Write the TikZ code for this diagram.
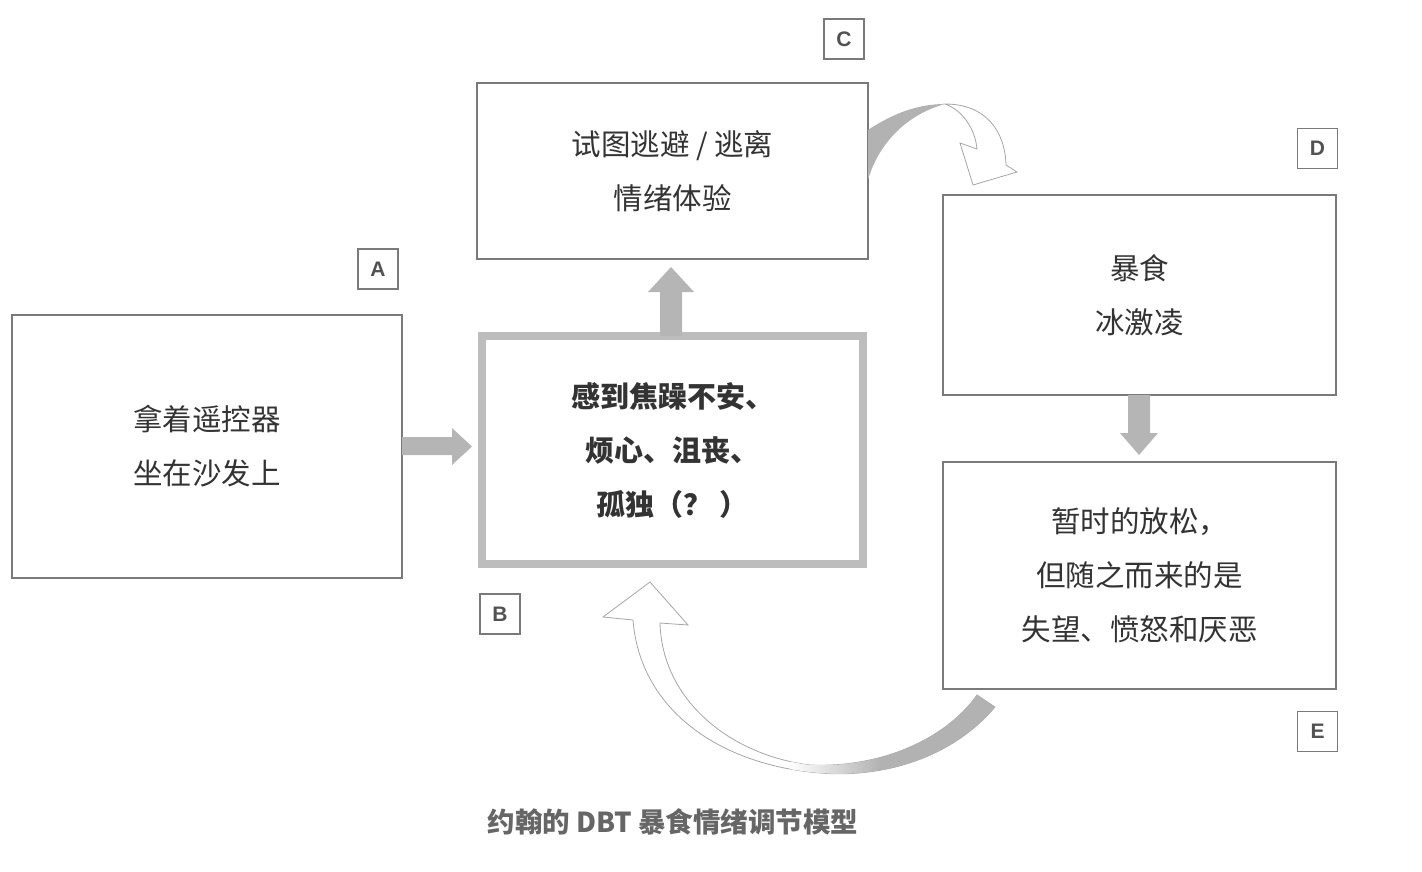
\documentclass[tikz,border=0pt]{standalone}
\usepackage{fontspec}
\setmainfont{Noto Sans CJK SC}
\newfontfamily\tagfont{Liberation Sans}
\usetikzlibrary{calc}
\definecolor{bordergray}{HTML}{7A7A7A}
\definecolor{arrowgray}{HTML}{B5B5B5}
\definecolor{thickgray}{HTML}{BDBDBD}
\definecolor{textgray}{HTML}{333333}
\definecolor{capgray}{HTML}{666666}
\tikzset{
  box/.style={draw=bordergray, line width=1.2pt, fill=white, inner sep=0pt, outer sep=0pt, align=center, text=textgray, font=\fontsize{29.5}{54}\selectfont},
  boldbox/.style={box, draw=thickgray, line width=8pt, font=\fontsize{29}{54}\selectfont\bfseries},
  tag/.style={draw=bordergray, line width=1.2pt, fill=white, minimum width=40pt, minimum height=40pt, inner sep=0pt, text=textgray!85, font=\tagfont\fontsize{21}{21}\selectfont\bfseries},
  blockarrow/.style={fill=arrowgray, draw=none},
  ribbon/.style={draw=gray!70, line width=0.8pt, fill=white},
  caption/.style={text=capgray, font=\fontsize{27.5}{27.5}\selectfont\bfseries}
}
\begin{document}
\begin{tikzpicture}[x=1pt,y=-1pt]
\useasboundingbox (0,0) rectangle (1422,871);
% boxes
\node[box, minimum width=390pt, minimum height=263pt] (A) at (207,446.5) {拿着遥控器\\坐在沙发上};
\node[boldbox, minimum width=381pt, minimum height=228pt] (B) at (672.5,450) {感到焦躁不安、\\烦心、沮丧、\\孤独（？ ）};
\node[box, minimum width=391pt, minimum height=176pt] (C) at (672.5,171) {试图逃避 / 逃离\\情绪体验};
\node[box, minimum width=393pt, minimum height=200pt] (D) at (1139.5,295) {暴食\\冰激凌};
\node[box, minimum width=393pt, minimum height=227pt] (E) at (1139.5,575.5) {暂时的放松，\\但随之而来的是\\失望、愤怒和厌恶};
% tags
\node[tag] (tA) at (378,269) {A};
\node[tag] (tB) at (500,614) {B};
\node[tag] (tC) at (844,39) {C};
\node[tag] (tD) at (1317.5,148.5) {D};
\node[tag] (tE) at (1317.5,731.5) {E};
% straight block arrows
\fill[blockarrow] (A.east |- 0,437) -- (452,437) -- (452,428) -- (472,446.5) -- (452,465) -- (452,455) -- (A.east |- 0,455) -- cycle;
\fill[blockarrow] (660,0 |- B.north) -- (660,292) -- (648,292) -- (671,267) -- (694,292) -- (682,292) -- (682,0 |- B.north) -- cycle;
\fill[blockarrow] (1128,0 |- D.south) -- (1128,433) -- (1120,433) -- (1139,455) -- (1158,433) -- (1150,433) -- (1150,0 |- D.south) -- cycle;
% curved arrow C -> D
\coordinate (cdtop) at (945,104);
\fill[gray!60] (C.east |- 0,130) .. controls (895,112) and (920,104) .. (cdtop) .. controls (905,115) and (878,145) .. (C.east |- 0,180) -- cycle;
\draw[ribbon] (cdtop) .. controls (985,104) and (1005,130) .. (1006,165) -- (1017,172) -- (973,185) -- (960,143) -- (977,149) .. controls (975,128) and (962,110) .. (cdtop) -- cycle;
% curved arrow E -> B
\draw[ribbon] (995,707) .. controls (950,760) and (880,778) .. (820,773) .. controls (720,765) and (640,710) .. (633,620) -- (603,617) -- (650,582) -- (688,625) -- (660,623) .. controls (662,700) and (730,755) .. (810,765) .. controls (880,768) and (945,740) .. (977,695) -- cycle;
\begin{scope}
\clip (995,707) .. controls (950,760) and (880,778) .. (820,773) .. controls (720,765) and (640,710) .. (633,620) -- (603,617) -- (650,582) -- (688,625) -- (660,623) .. controls (662,700) and (730,755) .. (810,765) .. controls (880,768) and (945,740) .. (977,695) -- cycle;
\shade[left color=white, right color=gray!60] (790,640) rectangle (880,800);
\fill[gray!60] (880,640) rectangle (1000,800);
\end{scope}
% caption
\node[caption] (cap) at (673,822) {约翰的 DBT 暴食情绪调节模型};
\end{tikzpicture}
\end{document}
